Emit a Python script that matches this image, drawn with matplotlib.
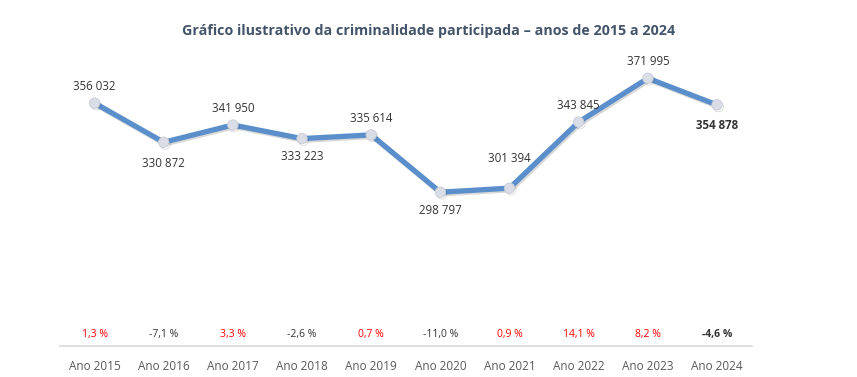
import numpy as np
import matplotlib.pyplot as plt
import matplotlib.patheffects as pe

anos = ["Ano 2015", "Ano 2016", "Ano 2017", "Ano 2018", "Ano 2019",
        "Ano 2020", "Ano 2021", "Ano 2022", "Ano 2023", "Ano 2024"]
valores = [356032, 330872, 341950, 333223, 335614,
           298797, 301394, 343845, 371995, 354878]
rotulos = ["356 032", "330 872", "341 950", "333 223", "335 614",
           "298 797", "301 394", "343 845", "371 995", "354 878"]
variacao = [1.3, -7.1, 3.3, -2.6, 0.7, -11.0, 0.9, 14.1, 8.2, -4.6]
# deslocamento do rótulo (pontos): positivo = acima
desloc = [12, -15, 12, -13, 12, -13, 21, 12, 12, -15]

plt.rcParams['font.family'] = ['Open Sans', 'DejaVu Sans']

fig = plt.figure(figsize=(8.57, 3.77), dpi=100)
ax = fig.add_axes((0.07, 0.0822, 0.807, 0.764))

x = np.arange(len(anos))
ax.plot(x, valores, color="#5B8FCB", lw=3.8, solid_joinstyle="round",
        marker="o", markersize=7.5, markerfacecolor="#DADDE5",
        markeredgecolor="#C8CCD6", markeredgewidth=0.6,
        path_effects=[pe.SimpleLineShadow(offset=(1.0, -1.2), alpha=0.15), pe.Normal()],
        zorder=3)

for i, v in enumerate(valores):
    ultimo = i == len(valores) - 1
    ax.annotate(rotulos[i], (x[i], v), xytext=(0, desloc[i]), textcoords="offset points",
                ha="center", va="center", fontsize=8.3, color="#333333",
                fontweight="bold" if ultimo else "normal")

for i, p in enumerate(variacao):
    ultimo = i == len(variacao) - 1
    txt = ("%.1f %%" % p).replace(".", ",")
    cor = "#FF0000" if p > 0 else "#333333"
    ax.annotate(txt, (x[i], 200000), xytext=(0, 8.5), textcoords="offset points",
                ha="center", va="center", fontsize=7.5, color=cor,
                fontweight="bold" if ultimo else "normal")

ax.set_xlim(-0.5, len(anos) - 0.5)
ax.set_ylim(200000, 385000)
ax.set_xticks(x)
ax.set_xticklabels(anos, fontsize=8.5, color="#595959")
ax.tick_params(axis="x", length=0, pad=10)
ax.set_yticks([])
for s in ["top", "right", "left"]:
    ax.spines[s].set_visible(False)
ax.spines["bottom"].set_color("#D9D9D9")
ax.spines["bottom"].set_linewidth(1.2)

fig.text(0.5, 0.918, "Gráfico ilustrativo da criminalidade participada – anos de 2015 a 2024",
         ha="center", va="center", fontsize=10.3, fontweight="bold", color="#44546A")

fig.savefig("out.png", dpi=100)
